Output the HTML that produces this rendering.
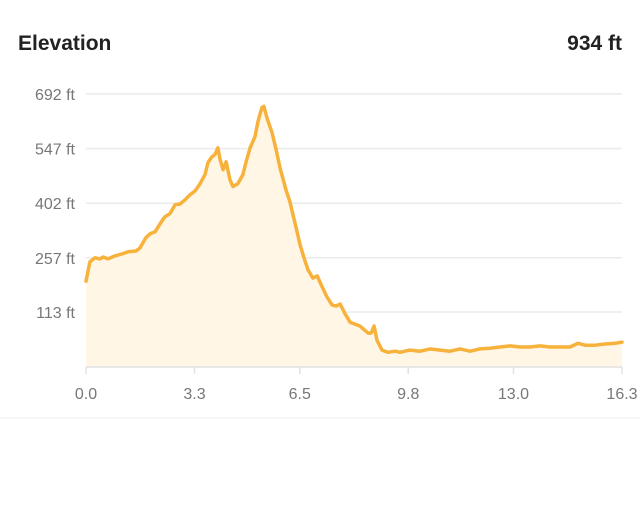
<!DOCTYPE html>
<html><head><meta charset="utf-8"><style>
body{margin:0;width:640px;height:524px;background:#fff;font-family:"Liberation Sans",sans-serif;overflow:hidden}
</style></head><body>
<svg id="c" width="640" height="524">
<text x="18" y="50" font-size="21" font-weight="bold" fill="#222">Elevation</text>
<text x="622" y="50" font-size="21" font-weight="bold" fill="#222" text-anchor="end">934 ft</text>
<line x1="0" y1="418" x2="640" y2="418" stroke="#eee" stroke-width="1"/>
<g id="grid"></g><g id="area"></g><g id="axes"></g>
</svg>
<script>
const yTicks=[692,547,402,257,113];
const yTickLabels=["692 ft","547 ft","402 ft","257 ft","113 ft"];
const xTicks=[0,3.3,6.5,9.8,13.0,16.3];
const xTickLabels=["0.0","3.3","6.5","9.8","13.0","16.3"];
const miles=[0,.12,.27,.43,.52,.67,.88,1.09,1.28,1.52,1.64,1.82,1.95,2.10,2.25,2.40,2.55,2.71,2.86,3.01,3.16,3.32,3.47,3.62,3.71,3.83,3.92,4.01,4.08,4.17,4.26,4.38,4.47,4.62,4.77,4.87,4.99,5.14,5.23,5.35,5.41,5.50,5.66,5.78,5.90,6.08,6.20,6.33,6.42,6.51,6.63,6.75,6.90,7.03,7.18,7.33,7.48,7.60,7.73,7.88,8.03,8.18,8.33,8.58,8.67,8.76,8.85,9.00,9.18,9.40,9.55,9.85,10.16,10.46,10.77,11.07,11.37,11.68,11.98,12.29,12.59,12.90,13.20,13.50,13.81,14.11,14.42,14.72,14.96,15.18,15.48,15.78,16.09,16.30];
const elev=[195,246,257,254,259,254,262,267,273,275,283,310,321,326,347,366,374,398,400,411,424,435,454,478,510,525,531,549,517,491,512,464,446,454,478,512,549,579,619,656,659,629,589,544,496,438,406,358,326,291,257,225,203,209,180,153,132,129,134,108,86,81,76,57,57,76,38,12,6,9,6,12,9,15,12,9,15,9,15,17,20,23,20,20,23,20,20,20,30,25,25,28,30,33];
const NS="http://www.w3.org/2000/svg";
const x0=86,x1=622,yTop=94,yBot=367,vMin=-33,vMax=692,mMax=16.3;
const X=m=>x0+(m/mMax)*(x1-x0);
const Y=v=>yBot-(v-vMin)/(vMax-vMin)*(yBot-yTop);
function mk(t,a,p){const e=document.createElementNS(NS,t);for(const k in a)e.setAttribute(k,a[k]);p.appendChild(e);return e;}
const grid=document.getElementById('grid'),axes=document.getElementById('axes'),area=document.getElementById('area');
yTicks.forEach((v,i)=>{
 const l=mk('line',{x1:86,x2:622,y1:Y(v),y2:Y(v),stroke:'#ebebeb','stroke-width':1.5},grid);
 
 
 const t=mk('text',{x:75,y:Y(v)+6,'font-size':16,fill:'#777','text-anchor':'end'},grid);
 t.textContent=yTickLabels[i];
 
 
});
let d='M'+X(miles[0])+','+Y(elev[0]);
for(let i=1;i<miles.length;i++)d+='L'+X(miles[i]).toFixed(1)+','+Y(elev[i]).toFixed(1);
const fill=mk('path',{d:d+'L'+X(miles[miles.length-1])+','+yBot+'L'+X(miles[0])+','+yBot+'Z',fill:'#fff6e6'},area);


const line=mk('path',{d:d,fill:'none',stroke:'#f7b23b','stroke-width':3.5,'stroke-linejoin':'round','stroke-linecap':'round'},area);


const ax=mk('line',{x1:86,x2:622,y1:yBot,y2:yBot,stroke:'#e2e2e2','stroke-width':1.5},axes);


xTicks.forEach((m,i)=>{
 const tk=mk('line',{x1:X(m),x2:X(m),y1:yBot,y2:yBot+7,stroke:'#e2e2e2','stroke-width':1.5},axes);
 
 
 const t=mk('text',{x:X(m),y:399,'font-size':16,fill:'#777','text-anchor':'middle'},axes);
 t.textContent=xTickLabels[i];
 
 
});
</script>
</body></html>
